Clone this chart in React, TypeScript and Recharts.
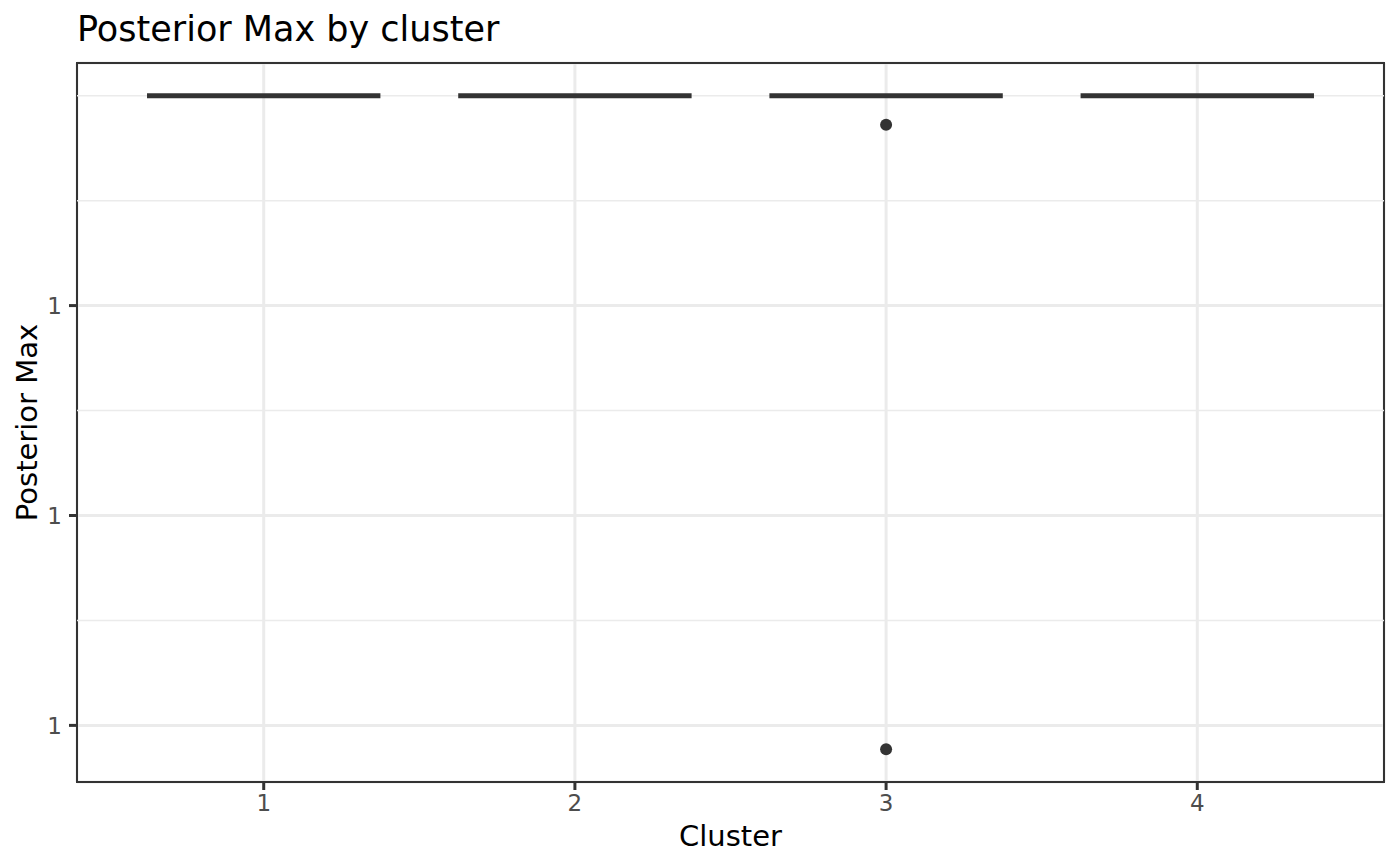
import React from "react";
import {
  ComposedChart,
  XAxis,
  YAxis,
  CartesianGrid,
  ReferenceLine,
  ReferenceArea,
  Scatter,
} from "recharts";

// boxplot stats per cluster (every box collapses onto the max)
const clusters = [1, 2, 3, 4];
const q1 = [1, 1, 1, 1];
const median = [1, 1, 1, 1];
const q3 = [1, 1, 1, 1];
const lowerWhisker = [1, 1, 1, 1];
const upperWhisker = [1, 1, 1, 1];

// outliers
const outlierCluster = [3, 3];
const outlierValue = [0.999999999862, 0.999999996886];

// axis breaks
const yTicks = [0.999999997, 0.999999998, 0.999999999];
const yMinorTicks = [0.9999999975, 0.9999999985, 0.9999999995, 1];

const FONT = "DejaVu Sans, sans-serif";
const INK = "#333333";
const GRID = "#ebebeb";
const BOX_HALF = 0.375;

const outliers = outlierCluster.map((c, i) => ({ x: c, y: outlierValue[i] }));

const allVals = [...lowerWhisker, ...upperWhisker, ...outlierValue];
const yMin = Math.min(...allVals);
const yMax = Math.max(...allVals);
const pad = (yMax - yMin) * 0.05;

const Dot = (p: any) => <circle cx={p.cx} cy={p.cy} r={6} fill={INK} />;

export default function App() {
  return (
    <div style={{ position: "absolute", left: 0, top: 0, width: 1400, height: 866, background: "#fff" }}>
      <ComposedChart
        width={1400}
        height={866}
        margin={{ top: 63, right: 16, bottom: 0, left: 0 }}
        style={{ fontFamily: FONT }}
      >
        <CartesianGrid stroke={GRID} strokeWidth={3} />
        <XAxis
          type="number"
          dataKey="x"
          domain={[0.4, 4.6]}
          ticks={clusters}
          allowDataOverflow
          height={84}
          axisLine={false}
          tickSize={8}
          tickMargin={5}
          tickLine={{ stroke: INK, strokeWidth: 3 }}
          tick={{ fill: "#4d4d4d", fontSize: 23, fontFamily: FONT }}
        />
        <YAxis
          type="number"
          dataKey="y"
          domain={[yMin - pad, yMax + pad]}
          ticks={yTicks}
          allowDataOverflow
          width={77}
          axisLine={false}
          tickSize={8}
          tickMargin={7}
          tickLine={{ stroke: INK, strokeWidth: 3 }}
          tick={{ fill: "#4d4d4d", fontSize: 23, fontFamily: FONT }}
          tickFormatter={(v: number) => v.toFixed(0)}
        />
        {yMinorTicks.map((v) => (
          <ReferenceLine key={"m" + v} y={v} stroke={GRID} strokeWidth={1.5} />
        ))}
        {clusters.map((c, i) => (
          <ReferenceArea
            key={"b" + c}
            x1={c - BOX_HALF}
            x2={c + BOX_HALF}
            y1={q1[i]}
            y2={q3[i]}
            fill="#ffffff"
            fillOpacity={1}
            stroke={INK}
            strokeWidth={2}
            ifOverflow="visible"
          />
        ))}
        {clusters.map((c, i) => (
          <ReferenceLine
            key={"md" + c}
            segment={[
              { x: c - BOX_HALF, y: median[i] },
              { x: c + BOX_HALF, y: median[i] },
            ]}
            stroke={INK}
            strokeWidth={5}
            ifOverflow="visible"
          />
        ))}
        <Scatter data={outliers} dataKey="y" shape={Dot} isAnimationActive={false} />
        <ReferenceArea
          x1={0.4}
          x2={4.6}
          y1={yMin - pad}
          y2={yMax + pad}
          fill="none"
          stroke={INK}
          strokeWidth={2}
          ifOverflow="visible"
        />
      </ComposedChart>
      <svg
        width={1400}
        height={866}
        style={{ position: "absolute", left: 0, top: 0, pointerEvents: "none", fontFamily: FONT }}
      >
        <text x={77} y={41} fontSize={35} fill="#000">
          Posterior Max by cluster
        </text>
        <text x={730.5} y={846} fontSize={29} fill="#000" textAnchor="middle">
          Cluster
        </text>
        <text
          x={37}
          y={422.5}
          fontSize={29}
          fill="#000"
          textAnchor="middle"
          transform="rotate(-90, 37, 422.5)"
        >
          Posterior Max
        </text>
      </svg>
    </div>
  );
}
